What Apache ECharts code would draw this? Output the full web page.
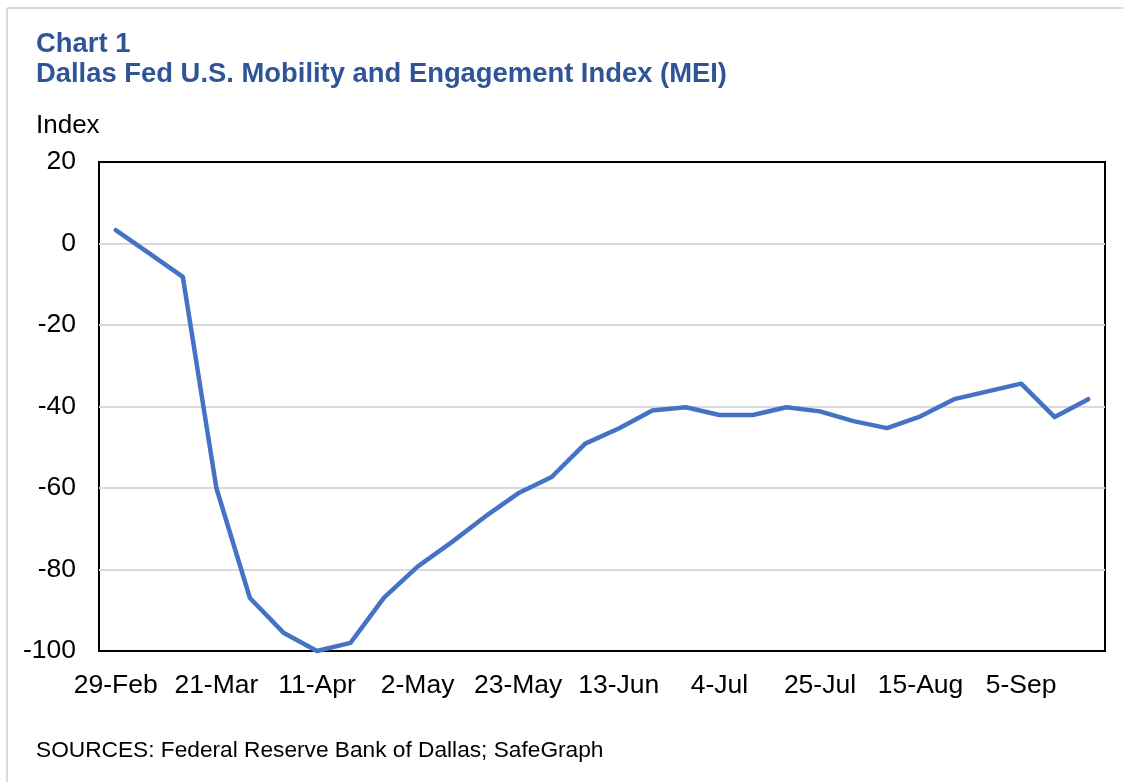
<!DOCTYPE html>
<html>
<head>
<meta charset="utf-8">
<script src="https://cdn.jsdelivr.net/npm/echarts@6/dist/echarts.min.js"></script>
<style>
html,body{margin:0;padding:0;background:#fff;}
#chart{width:1125px;height:782px;}
</style>
</head>
<body>
<div id="chart"></div>
<script>
const categories = ['29-Feb','7-Mar','14-Mar','21-Mar','28-Mar','4-Apr','11-Apr','18-Apr','25-Apr','2-May','9-May','16-May','23-May','30-May','6-Jun','13-Jun','20-Jun','27-Jun','4-Jul','11-Jul','18-Jul','25-Jul','1-Aug','8-Aug','15-Aug','22-Aug','29-Aug','5-Sep','12-Sep','19-Sep'];
const meiValues = [3.3, -2.4, -8.2, -60, -87, -95.5, -100, -98, -86.9, -79.3, -73.4, -67.1, -61.3, -57.3, -49.1, -45.4, -41.0, -40.2, -42.1, -42.1, -40.2, -41.2, -43.6, -45.3, -42.4, -38.2, -36.3, -34.4, -42.6, -38.2];
const yTicks = { min: -100, max: 20, interval: 20 };
const titleLines = ['Chart 1', 'Dallas Fed U.S. Mobility and Engagement Index (MEI)'];
const yAxisTitle = 'Index';
const sourceNote = 'SOURCES: Federal Reserve Bank of Dallas; SafeGraph';

const FONT = '"Liberation Sans", Arial, sans-serif';
const chart = echarts.init(document.getElementById('chart'), null, {renderer: 'canvas'});
chart.setOption({
  backgroundColor: '#ffffff',
  animation: false,
  title: [
    {text: titleLines[0], left: 36, top: 30.5, textStyle: {fontFamily: FONT, fontSize: 27.4, fontWeight: 'bold', color: '#2F5597', lineHeight: 27}, padding: 0},
    {text: titleLines[1], left: 36, top: 61, textStyle: {fontFamily: FONT, fontSize: 27.4, fontWeight: 'bold', color: '#2F5597', lineHeight: 27}, padding: 0},
    {text: yAxisTitle, left: 36, top: 113, textStyle: {fontFamily: FONT, fontSize: 26, fontWeight: 'normal', color: '#000', lineHeight: 26}, padding: 0},
    {text: sourceNote, left: 36, top: 739.5, textStyle: {fontFamily: FONT, fontSize: 22.7, fontWeight: 'normal', color: '#000', lineHeight: 22}, padding: 0}
  ],
  graphic: [
    {type: 'line', shape: {x1: 7, y1: 8, x2: 1123, y2: 8}, style: {stroke: '#d9d9d9', lineWidth: 2}, silent: true},
    {type: 'line', shape: {x1: 7, y1: 8, x2: 7, y2: 782}, style: {stroke: '#d9d9d9', lineWidth: 2}, silent: true}
  ],
  grid: {left: 99, top: 162, right: 20, bottom: 131, show: true, borderColor: '#000', borderWidth: 2, backgroundColor: 'transparent', containLabel: false},
  xAxis: {
    type: 'category',
    data: categories,
    boundaryGap: true,
    axisLine: {show: false},
    axisTick: {show: false},
    axisLabel: {interval: 2, margin: 21, fontFamily: FONT, fontSize: 26.5, color: '#000'},
    splitLine: {show: false}
  },
  yAxis: {
    type: 'value',
    min: yTicks.min, max: yTicks.max, interval: yTicks.interval,
    axisLine: {show: false},
    axisTick: {show: false},
    axisLabel: {margin: 23, fontFamily: FONT, fontSize: 26.5, color: '#000'},
    splitLine: {show: true, showMinLine: false, showMaxLine: false, lineStyle: {color: '#d9d9d9', width: 2}}
  },
  series: [{
    type: 'line',
    data: meiValues,
    showSymbol: false,
    symbol: 'none',
    lineStyle: {color: '#4472C4', width: 4.5, cap: 'round', join: 'round'},
    clip: false,
    z: 3
  }]
});
</script>
</body>
</html>
